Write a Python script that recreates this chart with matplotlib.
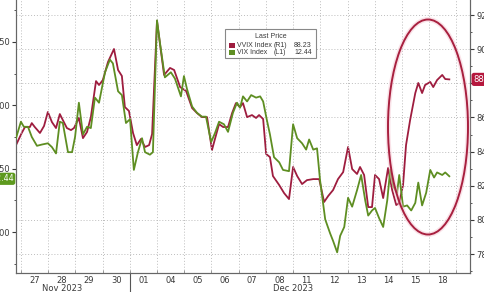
import matplotlib
matplotlib.use("Agg")
import matplotlib.pyplot as plt
from matplotlib.patches import Ellipse, Rectangle
from matplotlib.lines import Line2D
from matplotlib.ticker import MultipleLocator, FixedLocator

# ---- data (time in trading-day units from Nov 27 session start) ----
vvix_t = [-0.18, 0.03, 0.15, 0.33, 0.40, 0.51, 0.70, 0.85, 0.99, 1.14, 1.29, 1.43, 1.54, 1.69,
          1.84, 1.95, 2.13, 2.28, 2.43, 2.57, 2.76, 2.87, 3.01, 3.20, 3.42, 3.57, 3.71, 3.82,
          3.97, 4.12, 4.26, 4.41, 4.56, 4.71, 4.82, 5.00, 5.26, 5.48, 5.63, 5.85, 6.07, 6.29,
          6.47, 6.65, 6.84, 7.02, 7.13, 7.28, 7.43, 7.61, 7.76, 7.90, 8.05, 8.16, 8.31, 8.49,
          8.64, 8.75, 8.90, 9.01, 9.15, 9.26, 9.49, 9.67, 9.85, 10.00, 10.15, 10.33, 10.51,
          10.74, 10.96, 11.14, 11.29, 11.47, 11.65, 11.84, 12.02, 12.17, 12.35, 12.46, 12.61,
          12.76, 12.90, 13.01, 13.16, 13.31, 13.49, 13.64, 13.79, 13.90, 14.04, 14.15, 14.30,
          14.49, 14.60, 14.74, 14.85, 15.04, 15.15, 15.29, 15.48, 15.59, 15.74]
vvix = [84.38, 85.09, 85.44, 85.44, 85.67, 85.44, 85.09, 85.50, 86.32, 85.73, 85.38, 86.20, 85.85,
        85.38, 85.26, 85.38, 85.97, 84.79, 85.15, 86.02, 88.13, 87.90, 88.19, 89.25, 90.01, 88.78,
        88.43, 86.61, 86.38, 85.09, 84.38, 84.74, 84.27, 84.38, 85.03, 91.65, 88.49, 88.90, 88.78,
        87.78, 87.55, 86.55, 86.26, 86.02, 86.02, 84.09, 84.74, 85.61, 85.44, 85.44, 86.26, 86.84,
        86.61, 86.84, 86.02, 86.14, 85.97, 86.14, 85.91, 83.86, 83.68, 82.57, 82.04, 81.57, 81.22,
        83.10, 82.57, 82.10, 82.33, 82.39, 82.39, 81.05, 81.40, 81.75, 82.39, 82.80, 84.27, 82.98,
        82.69, 83.10, 82.63, 80.75, 80.75, 82.63, 82.39, 81.28, 83.04, 81.75, 80.87, 80.99, 82.04,
        84.38, 85.85, 87.43, 88.02, 87.43, 87.90, 88.08, 87.78, 88.19, 88.49, 88.25, 88.23]

vix_t = [-0.18, 0.00, 0.11, 0.26, 0.40, 0.59, 0.77, 0.99, 1.14, 1.29, 1.43, 1.54, 1.73, 1.88,
         1.99, 2.13, 2.28, 2.43, 2.57, 2.72, 2.87, 3.09, 3.27, 3.38, 3.57, 3.71, 3.86, 4.01,
         4.15, 4.30, 4.45, 4.56, 4.74, 4.85, 5.00, 5.11, 5.29, 5.51, 5.66, 5.88, 5.99, 6.10,
         6.29, 6.47, 6.65, 6.80, 6.99, 7.13, 7.28, 7.46, 7.61, 7.79, 7.94, 8.05, 8.16, 8.31,
         8.46, 8.64, 8.79, 8.90, 9.04, 9.15, 9.30, 9.49, 9.63, 9.85, 10.00, 10.15, 10.33,
         10.48, 10.59, 10.74, 10.88, 10.99, 11.18, 11.36, 11.47, 11.62, 11.73, 11.88, 12.02,
         12.17, 12.35, 12.50, 12.65, 12.76, 12.90, 13.01, 13.16, 13.31, 13.46, 13.57, 13.68,
         13.82, 13.90, 14.04, 14.19, 14.34, 14.49, 14.60, 14.74, 14.89, 15.04, 15.18, 15.29,
         15.48, 15.59, 15.74]
vix = [12.74, 12.87, 12.83, 12.83, 12.75, 12.68, 12.69, 12.70, 12.67, 12.62, 12.87, 12.86, 12.63,
       12.63, 12.75, 13.02, 12.77, 12.83, 12.82, 13.06, 13.02, 13.26, 13.36, 13.33, 13.11, 13.08,
       12.86, 12.89, 12.49, 12.63, 12.74, 12.63, 12.61, 12.63, 13.67, 13.49, 13.22, 13.26, 13.21,
       13.07, 13.23, 13.13, 12.99, 12.94, 12.91, 12.91, 12.71, 12.78, 12.87, 12.85, 12.79, 12.94,
       13.02, 12.98, 13.07, 13.03, 13.08, 13.06, 13.07, 13.03, 12.88, 12.77, 12.59, 12.55, 12.49,
       12.48, 12.85, 12.74, 12.70, 12.65, 12.73, 12.65, 12.66, 12.41, 12.10, 11.99, 11.93, 11.84,
       11.97, 12.04, 12.27, 12.20, 12.33, 12.45, 12.25, 12.13, 12.17, 12.19, 12.11, 12.04, 12.25,
       12.49, 12.36, 12.31, 12.45, 12.20, 12.21, 12.17, 12.23, 12.39, 12.21, 12.31, 12.49, 12.43,
       12.47, 12.45, 12.47, 12.44]

day_labels = ["27", "28", "29", "30", "01", "04", "05", "06", "07", "08",
              "11", "12", "13", "14", "15", "18"]
month_labels = ["Nov 2023", "Dec 2023"]
vvix_ticks = [78, 80, 82, 84, 86, 88, 90, 92]
vix_ticks = [12.0, 12.5, 13.0, 13.5]
vvix_last = "88.23"
vix_last = "12.44"

RED = "#9E1D3F"
GREEN = "#5E8E22"
GRID = "#bdbdbd"
TXT = "#3a3a3a"

W, H = 485, 292
fig = plt.figure(figsize=(W / 100, H / 100), dpi=100)
fig.patch.set_facecolor("white")

L, R, B, T = 16, 470, 273, 0
ax = fig.add_axes([L / W, 1 - B / H, (R - L) / W, (B - T) / H])
ax2 = ax.twinx()
ax.set_zorder(ax2.get_zorder() + 1)
ax.patch.set_visible(False)

ax.set_xlim(-0.18, 16.5)
ax.set_ylim(11.677, 13.83)
ax2.set_ylim(76.89, 92.88)

# grid
for i in range(0, 17):
    ax.axvline(i, color=GRID, lw=0.7, ls=(0, (1, 2)), zorder=0)
for v in vvix_ticks:
    ax2.axhline(v, color=GRID, lw=0.7, ls=(0, (1, 2)), zorder=0)

ax2.plot(vvix_t, vvix, color=RED, lw=1.3, zorder=3)
ax.plot(vix_t, vix, color=GREEN, lw=1.3, zorder=3)

# x ticks
ax.set_xticks([i + 0.5 for i in range(len(day_labels))])
ax.set_xticklabels(day_labels)
ax.tick_params(axis="x", length=0, pad=2, labelsize=6, colors=TXT)
ax.xaxis.set_minor_locator(FixedLocator(list(range(0, 17))))
ax.tick_params(axis="x", which="minor", length=2, direction="in", color="#888888")

# month labels and separator
for xm, lab in zip([1.5, 10.0], month_labels):
    ax.text(xm, -0.055, lab, transform=ax.get_xaxis_transform(),
            ha="center", va="center", fontsize=6, color=TXT, clip_on=False)
ax.add_line(Line2D([4, 4], [0, -0.08], transform=ax.get_xaxis_transform(),
                   color="#555555", lw=0.8, clip_on=False))

# left axis
ax.set_yticks(vix_ticks)
ax.set_yticklabels([f"{v:.2f}" for v in vix_ticks])
ax.yaxis.set_minor_locator(MultipleLocator(0.25))
ax.tick_params(axis="y", which="major", length=3, pad=1.5, labelsize=6, colors=TXT)
ax.tick_params(axis="y", which="minor", length=1.5, color=TXT)

# right axis (88.00 label is hidden under the last-price tag in the reference)
ax2.set_yticks(vvix_ticks)
ax2.set_yticklabels(["" if v == 88 else f"{v:.2f}" for v in vvix_ticks])
ax2.yaxis.set_minor_locator(MultipleLocator(1))
ax2.tick_params(axis="y", which="major", length=3, pad=1.5, labelsize=6, colors=TXT)
ax2.tick_params(axis="y", which="minor", length=1.5, color=TXT)

for a in (ax, ax2):
    a.spines["top"].set_visible(False)
    for s in ("left", "right", "bottom"):
        a.spines[s].set_color("#666666")
        a.spines[s].set_linewidth(0.8)

# last-value tags
ax2.text(1.008, 88.23, vvix_last, transform=ax2.get_yaxis_transform(), ha="left", va="center",
         fontsize=6, color="white", clip_on=False, zorder=6,
         bbox=dict(boxstyle="round,pad=0.25,rounding_size=0.3", fc="#B5173D", ec="none"))
ax.text(-0.005, 12.42, vix_last, transform=ax.get_yaxis_transform(), ha="right", va="center",
        fontsize=5.8, color="white", clip_on=False, zorder=6,
        bbox=dict(boxstyle="round,pad=0.2,rounding_size=0.3", fc="#5E9A1E", ec="none"))

# legend box (figure pixel based)
def fx(x):
    return x / W

def fy(y):
    return 1 - y / H

LF = dict(fontsize=5.0, color=TXT, zorder=11, family="Liberation Sans")
fig.patches.append(Rectangle((fx(225), fy(58)), fx(316) - fx(225), fy(29) - fy(58),
                             transform=fig.transFigure, fc="white", ec="#888888", lw=0.8,
                             zorder=10))
fig.text(fx(270.5), fy(37), "Last Price", ha="center", va="center", **LF)
for yy, col, name, tag, val in [(45.5, RED, "VVIX Index", "(R1)", vvix_last),
                                (52.5, GREEN, "VIX Index", "(L1)", vix_last)]:
    fig.patches.append(Rectangle((fx(229.5), fy(yy + 2.7)), fx(5.5), 5.5 / H,
                                 transform=fig.transFigure, fc=col, ec="none", zorder=11))
    fig.text(fx(237), fy(yy), name, ha="left", va="center", **LF)
    fig.text(fx(274), fy(yy), tag, ha="left", va="center", **LF)
    fig.text(fx(312), fy(yy), val, ha="right", va="center", **LF)

# highlight ellipse
fig.patches.append(Ellipse((fx(428), fy(127)), fx(80), 215 / H, transform=fig.transFigure,
                           fill=False, ec="#F5C6D2", lw=3.5, alpha=0.5, zorder=12))
fig.patches.append(Ellipse((fx(428), fy(127)), fx(80), 215 / H, transform=fig.transFigure,
                           fill=False, ec="#A8203F", lw=1.4, zorder=13))

fig.savefig("out.png", dpi=100, facecolor="white")
